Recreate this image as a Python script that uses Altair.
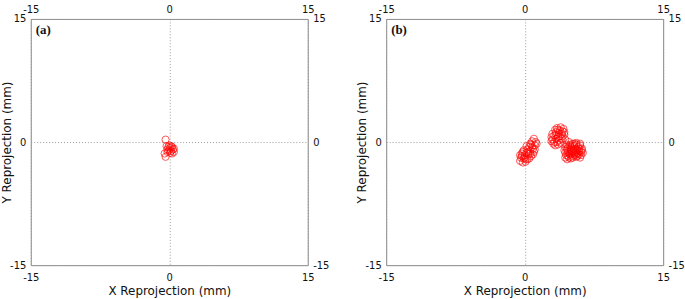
import altair as alt
import pandas as pd

# Panel (a) reprojection points (mm)
a_x = [-0.4, -0.3, -0.1, 0.1, 0.3, 0.4, 0.5, 0.2, 0.0, -0.2, -0.5, -0.4, 0.3, 0.1, -0.2, 0.5, 0.0, 0.2]
a_y = [0.3, -0.5, -0.6, -0.7, -0.6, -0.9, -1.2, -1.1, -1.0, -0.9, -1.4, -1.8, -1.4, -1.3, -1.2, -0.8, -0.4, -0.5]

# Panel (b) reprojection points (mm): three clusters
b1_x = [1.0, 1.2, 0.8, 1.1, 0.7, 0.9, 0.5, 0.3, 0.6, 1.0, 0.2, -0.1, -0.3, 0.0, 0.4, 0.7, -0.4, -0.1,
        0.3, -0.5, -0.2, 0.1, 0.5, 0.8, 0.4, -0.3, 0.0, 1.3,
        0.6, 0.2, 0.9, -0.2, 0.1, -0.5, 0.6, 1.1]
b1_y = [0.4, 0.0, 0.1, -0.4, -0.3, -0.8, -0.6, -0.9, -1.1, -1.2, -1.3, -1.0, -1.4, -1.6, -1.5, -1.7, -1.9, -2.0,
        -2.1, -2.3, -2.5, -2.4, -2.0, -0.6, -1.2, -1.7, -1.9, -0.2,
        -0.2, -0.5, -1.5, -1.2, -2.1, -1.6, -1.4, -0.9]
b2_x = [3.0, 3.2, 3.4, 3.6, 3.8, 4.0, 4.2, 3.5, 3.1, 3.3, 3.7, 4.0, 4.3, 3.9, 3.4, 2.9, 3.6, 4.1, 3.2, 3.8, 4.4, 3.0, 3.5,
        3.3, 3.9, 4.1, 3.6, 2.9, 3.7, 4.3, 3.4]
b2_y = [0.3, 0.8, 1.2, 0.6, 1.4, 1.0, 1.6, 0.0, -0.2, -0.4, 0.2, 0.4, 0.9, -0.1, 0.9, 0.6, 1.5, 1.3, 0.0, 0.7, 0.3, 1.0, 1.7,
        1.5, 1.8, 0.7, -0.3, 0.1, 1.1, 1.2, 0.4]
b3_x = [4.5, 4.8, 5.2, 5.6, 6.0, 6.2, 5.8, 5.4, 5.0, 4.6, 4.3, 4.7, 5.1, 5.5, 5.9, 6.3, 6.1, 5.7, 5.3, 4.9,
        4.5, 4.4, 4.8, 5.2, 5.6, 6.0, 5.0, 4.6, 5.4, 5.0, 5.3, 5.7, 4.9, 5.5, 6.1, 4.7, 5.1, 5.9, 4.4, 5.6,
        4.6, 5.0, 5.3, 5.8, 6.2, 4.8, 5.2, 5.7, 6.0, 5.4, 4.7, 5.1, 5.9, 4.4, 5.5]
b3_y = [-0.3, 0.0, -0.2, -0.1, -0.4, -0.8, -0.6, -0.5, -0.6, -0.8, -1.0, -1.2, -1.0, -0.9, -1.1, -1.3, -1.6, -1.4,
        -1.3, -1.5, -1.6, -1.3, -1.9, -1.7, -1.8, -1.9, -2.0, -2.1, -1.5, -1.2, -0.8, -1.0, -0.4, -1.2, -1.2, -0.6,
        -1.4, -1.5, -1.9, -0.3,
        -1.0, -0.9, -1.1, -1.3, -1.0, -1.4, -1.9, -1.7, -0.2, -0.2, -1.7, -0.4, -0.8, -0.6, -1.6]

ticks = [-15, 0, 15]
panel_w = 279
panel_h = 248
label_font = "DejaVu Sans"

df_a = pd.DataFrame({"x": a_x, "y": a_y})
df_b = pd.DataFrame({"x": b1_x + b2_x + b3_x, "y": b1_y + b2_y + b3_y})


def panel(df, tag):
    sc = alt.Scale(domain=[-15, 15], nice=False, zero=False)
    common = dict(values=ticks, ticks=False, domain=False, labelFlush=False, labelOverlap=False,
                  labelFont=label_font, labelFontSize=10, labelColor="#111",
                  labelExpr="'' + datum.value")
    title_style = dict(titleFont=label_font, titleFontSize=12, titleFontWeight="normal", titleColor="#111")
    grid_style = dict(grid=True, gridDash=[1, 2], gridColor="#9a9a9a", gridWidth=1)
    pts = alt.Chart(df).mark_point(shape="circle", size=52, color="#ff0000", filled=False,
                                   strokeWidth=1, opacity=0.65).encode(
        x=alt.X("x:Q", scale=sc, axis=alt.Axis(orient="bottom", title="X Reprojection (mm)",
                                                labelPadding=7, titlePadding=4,
                                                **grid_style, **title_style, **common)),
        y=alt.Y("y:Q", scale=sc, axis=alt.Axis(orient="left", title="Y Reprojection (mm)",
                                                labelPadding=5, titlePadding=-4,
                                                **grid_style, **title_style, **common)),
    )
    opp = alt.Chart(df).mark_point(opacity=0).encode(
        x=alt.X("x:Q", scale=sc, axis=alt.Axis(orient="top", title=None, grid=False, labelPadding=5, **common)),
        y=alt.Y("y:Q", scale=sc, axis=alt.Axis(orient="right", title=None, grid=False, labelPadding=5, **common)),
    )
    txt = alt.Chart(pd.DataFrame({"t": [tag]})).mark_text(
        font="Liberation Serif", fontWeight="bold", fontSize=13, align="left", baseline="top", color="#111"
    ).encode(text="t:N", x=alt.value(5), y=alt.value(5))
    return alt.layer(pts, opp, txt).resolve_axis(x="independent", y="independent").properties(
        width=panel_w, height=panel_h)


chart = alt.hconcat(panel(df_a, "(a)"), panel(df_b, "(b)"), spacing=26).properties(
    padding={"left": 0, "top": 2, "right": 0, "bottom": 0}
).configure_view(stroke="#8a8a8a", strokeWidth=1)

chart.save("out.html", embed_options={"renderer": "svg", "actions": False})
